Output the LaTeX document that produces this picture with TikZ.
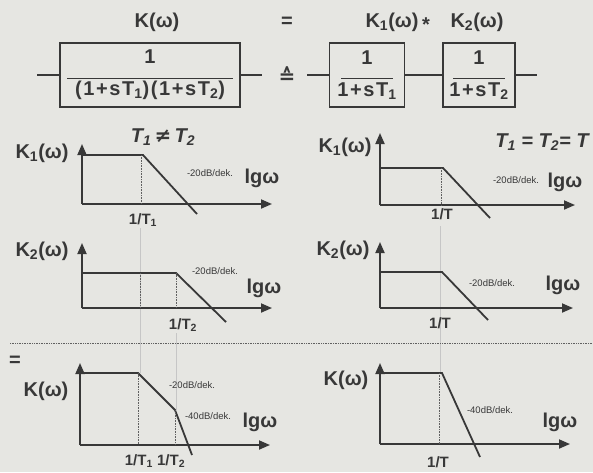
\documentclass[tikz,border=0pt]{standalone}
\usepackage{fontspec}
\setmainfont{Liberation Sans}
\newfontfamily\symfont{DejaVu Sans}
\usetikzlibrary{arrows.meta,positioning}
\definecolor{paper}{HTML}{E6E6E2}
\definecolor{ink}{HTML}{383838}

\begin{document}
\begin{tikzpicture}[x=1pt, y=-1pt,
  big/.style={font=\fontsize{20}{22}\selectfont\bfseries, text=ink, inner sep=0pt},
  blk/.style={draw=ink, line width=1.6pt, minimum height=64pt, inner sep=0pt, align=center,
    font=\fontsize{20}{21}\selectfont\bfseries, text=ink},
  wire/.style={draw=ink, line width=1.4pt},
  axis/.style={draw=ink, line width=1.8pt, -{Triangle[length=11pt,width=9pt]}},
  curve/.style={draw=ink, line width=1.8pt},
  guide/.style={draw=ink!80, densely dotted, line width=0.6pt},
  tieline/.style={draw=gray!45, line width=0.7pt},
  sep/.style={draw=ink!80, densely dotted, line width=0.7pt},
  slope/.style={font=\fontsize{9.5}{10}\selectfont, text=ink, inner sep=0pt},
  tick/.style={font=\fontsize{15}{16}\selectfont\bfseries, text=ink, inner sep=0pt}]
\fill[paper] (0,0) rectangle (593,472);
\useasboundingbox (0,0) rectangle (593,472);

% equation line
\node[big] (ktot) at (157,22) {K(ω)};
\node[big] (eq) at (287,22) {=};
\node[big] (k1) at (392,22) {K\textsubscript{1}(ω)};
\node[big] (star) at (426,25) {*};
\node[big] (k2) at (477,22) {K\textsubscript{2}(ω)};

\node[blk, minimum width=180pt] (pt2) at (150,75)
  {1\\[-6pt]\rule{166pt}{1.2pt}\\[-4pt]{\addfontfeature{LetterSpace=8}(1+sT\textsubscript{1})(1+sT\textsubscript{2})}};
\node[big] (corr) at (287,75) {\symfont ≙};
\node[blk, minimum width=75pt] (pta) at (367,75)
  {1\\[-6pt]\rule{52pt}{1.2pt}\\[-4pt]{\addfontfeature{LetterSpace=8}1+sT\textsubscript{1}}};
\node[blk, minimum width=72pt] (ptb) at (479,75)
  {1\\[-6pt]\rule{52pt}{1.2pt}\\[-4pt]{\addfontfeature{LetterSpace=8}1+sT\textsubscript{2}}};
\coordinate (inL) at (37,75);
\coordinate (outL) at (262,75);
\coordinate (inR) at (307,75);
\coordinate (outR) at (537,75);
\draw[wire] (inL) -- (pt2);
\draw[wire] (pt2) -- (outL);
\draw[wire] (inR) -- (pta);
\draw[wire] (pta) -- (ptb);
\draw[wire] (ptb) -- (outR);

% alignment lines and separator
\draw[tieline] (140,228) -- (140,373);
\draw[tieline] (176,333) -- (176,410);
\draw[tieline] (440,226) -- (440,373);
\draw[sep] (10,343) -- (593,343);

% axes
\foreach \n/\ox/\oy/\ly/\lx in {a1/82/204/60/190, a2/82/308/65/190, a3/80/445/82/190,
                               b1/380/205/72/195, b2/380/308/66/193, b3/380/444/81/190} {
  \coordinate (\n) at (\ox,\oy);
  \coordinate (\n-y) at (\ox,\oy-\ly);
  \coordinate (\n-x) at (\ox+\lx,\oy);
  \draw[axis] (\n) -- (\n-y);
  \draw[axis] (\n) -- (\n-x);
}

% T1 != T2
\draw[curve] (82,155) -- (143,155) -- (197,214);
\draw[guide] (141,155) -- (141,204);
\node[big] (k1a) at (42,153) {K\textsubscript{1}(ω)};
\node[big, font=\fontsize{20}{22}\selectfont\bfseries\itshape] (neq) at (163,137) {T\textsubscript{1}\,{\symfont≠}\,T\textsubscript{2}};
\node[slope] (s1a) at (210,173) {-20dB/dek.};
\node[big] (w1a) at (262,178) {lgω};
\node[tick] (f1a) at (143,220) {1/T\textsubscript{1}};

\draw[curve] (82,273) -- (176,273) -- (226,322);
\draw[guide] (140,273) -- (140,308);
\draw[guide] (176,273) -- (176,308);
\node[big] (k2a) at (42,251) {K\textsubscript{2}(ω)};
\node[slope] (s2a) at (215,271) {-20dB/dek.};
\node[big] (w2a) at (264,288) {lgω};
\node[tick] (f2a) at (183,325) {1/T\textsubscript{2}};

\draw[curve] (80,373) -- (138,373) -- (175,410) -- (192,455);
\draw[guide] (138,373) -- (138,445);
\draw[guide] (175,410) -- (175,445);
\node[big] (eqa) at (15,361) {=};
\node[big] (ka) at (46,391) {K(ω)};
\node[slope] (s3a) at (192,385) {-20dB/dek.};
\node[slope] (s4a) at (208,416) {-40dB/dek.};
\node[big] (w3a) at (260,422) {lgω};
\node[tick] (f3a) at (155,461) {1/T\textsubscript{1} 1/T\textsubscript{2}};

% T1 = T2 = T
\draw[curve] (380,168) -- (443,168) -- (490,218);
\draw[guide] (441,168) -- (441,205);
\node[big] (k1b) at (345,147) {K\textsubscript{1}(ω)};
\node[big, font=\fontsize{20}{22}\selectfont\bfseries\itshape] (eqt) at (542,142) {T\textsubscript{1} = T\textsubscript{2}= T};
\node[slope] (s1b) at (516,180) {-20dB/dek.};
\node[big] (w1b) at (565,182) {lgω};
\node[tick] (f1b) at (442,214) {1/T};

\draw[curve] (380,272) -- (442,272) -- (488,320);
\node[big] (k2b) at (343,250) {K\textsubscript{2}(ω)};
\node[slope] (s2b) at (492,283) {-20dB/dek.};
\node[big] (w2b) at (563,285) {lgω};
\node[tick] (f2b) at (440,323) {1/T};

\draw[curve] (380,373) -- (442,373) -- (480,457);
\draw[guide] (439,373) -- (439,444);
\node[big] (kb) at (346,380) {K(ω)};
\node[slope] (s3b) at (490,410) {-40dB/dek.};
\node[big] (w3b) at (560,422) {lgω};
\node[tick] (f3b) at (438,462) {1/T};
\end{tikzpicture}
\end{document}
